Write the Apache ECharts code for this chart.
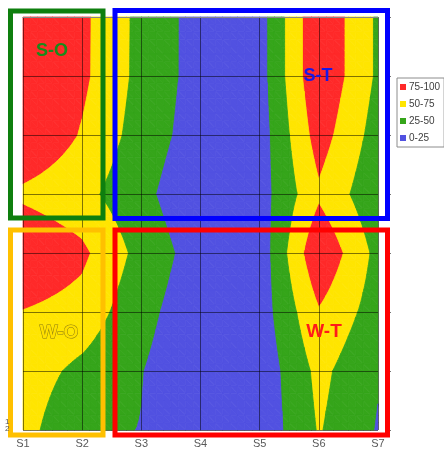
<!DOCTYPE html>
<html><head><meta charset="utf-8">
<script src="https://cdn.jsdelivr.net/npm/echarts@6/dist/echarts.min.js"></script>
<style>html,body{margin:0;padding:0;background:#fff}#c{width:444px;height:450px}</style>
</head><body><div id="c"></div><script>
// Categories along the horizontal axis
const categories = ['S1', 'S2', 'S3', 'S4', 'S5', 'S6', 'S7'];
// Surface values, one array per row (top row first)
const row1 = [95, 80.7, 42.8, 15, 15, 98, 46];
const row2 = [95, 80.5, 42.5, 15, 15, 98, 46];
const row3 = [100, 73, 39, 12.6, 12.7, 87, 39];
const row4 = [70, 57.7, 32, 5, 14, 71, 31];
const row5 = [100, 80.5, 41.5, 13, 10, 98, 42.5];
const row6 = [74, 65, 33, 8, 12, 73, 38];
const row7 = [62, 44, 26, 5, 8.3, 57, 27];
const row8 = [58, 30.4, 24.4, 5, 7.6, 52, 23.4];
const rows = [row1, row2, row3, row4, row5, row6, row7, row8];
// Contour bands
const bandNames = ['75-100', '50-75', '25-50', '0-25'];
const bandLow = [75, 50, 25, -Infinity];
const bandHigh = [Infinity, 75, 50, 25];
const bandColors = ['#FF2929', '#FFE500', '#35A51A', '#5151E1'];

function clip(poly, f) {
  const out = [];
  for (let i = 0; i < poly.length; i++) {
    const a = poly[i], b = poly[(i + 1) % poly.length];
    const fa = f(a[2]), fb = f(b[2]);
    if (fa >= 0) out.push(a);
    if ((fa >= 0) !== (fb >= 0)) {
      const t = fa / (fa - fb);
      out.push([a[0] + t * (b[0] - a[0]), a[1] + t * (b[1] - a[1]), a[2] + t * (b[2] - a[2])]);
    }
  }
  return out;
}

const N = 8;
const pieces = bandNames.map(() => []);
for (let j = 0; j < rows.length - 1; j++) {
  for (let i = 0; i < categories.length - 1; i++) {
    const A = rows[j][i], B = rows[j][i + 1], C = rows[j + 1][i], D = rows[j + 1][i + 1];
    const val = (u, w) => (1 - u) * (1 - w) * A + u * (1 - w) * B + (1 - u) * w * C + u * w * D;
    for (let a = 0; a < N; a++) {
      for (let b = 0; b < N; b++) {
        const u0 = a / N, u1 = (a + 1) / N, w0 = b / N, w1 = (b + 1) / N;
        const p00 = [i + u0, j + w0, val(u0, w0)];
        const p10 = [i + u1, j + w0, val(u1, w0)];
        const p01 = [i + u0, j + w1, val(u0, w1)];
        const p11 = [i + u1, j + w1, val(u1, w1)];
        const tris = [[p00, p10, p11], [p00, p11, p01]];
        for (const tri of tris) {
          for (let k = 0; k < bandNames.length; k++) {
            let p = clip(tri, v => v - bandLow[k]);
            if (p.length < 3) continue;
            p = clip(p, v => bandHigh[k] - v);
            if (p.length < 3) continue;
            pieces[k].push(p);
          }
        }
      }
    }
  }
}

const chart = echarts.init(document.getElementById('c'), null, {renderer: 'canvas'});
const series = bandNames.map((name, k) => ({
  name: name,
  type: 'custom',
  coordinateSystem: 'cartesian2d',
  silent: true,
  animation: false,
  itemStyle: {color: bandColors[k]},
  data: [[0, 0]],
  renderItem: function (params, api) {
    return {
      type: 'group',
      children: pieces[k].map(p => ({
        type: 'polygon',
        shape: {points: p.map(pt => api.coord([pt[0], pt[1]]))},
        style: {fill: bandColors[k], stroke: bandColors[k], lineWidth: 0.8}
      }))
    };
  }
}));

const boxStyle = (c) => ({fill: 'none', stroke: c, lineWidth: 5});
chart.setOption({
  animation: false,
  grid: {left: 23, right: 66, top: 17, bottom: 20},
  legend: {
    orient: 'vertical', left: 397, top: 78, data: bandNames, icon: 'rect',
    itemWidth: 6, itemHeight: 6, itemGap: 7, selectedMode: false,
    textStyle: {fontSize: 10, color: '#404040', fontFamily: 'Liberation Sans', padding: [0, 0, 0, -2]},
    borderColor: '#8c8c8c', borderWidth: 1, padding: [4, 4, 4, 3], backgroundColor: '#fff'
  },
  xAxis: {
    type: 'value', min: 0, max: 6, interval: 1, z: 5,
    axisLine: {show: true, lineStyle: {color: '#868686'}},
    axisTick: {show: false},
    axisLabel: {formatter: v => categories[v], color: '#595959', fontSize: 11, margin: 8, fontFamily: 'Liberation Sans'},
    splitLine: {show: true, lineStyle: {color: 'rgba(0,0,0,0.5)', width: 1}}
  },
  yAxis: [{
    type: 'value', min: 0, max: 7, interval: 1, inverse: true, z: 5,
    axisLine: {show: false}, axisTick: {show: false}, axisLabel: {show: false},
    splitLine: {show: true, lineStyle: {color: 'rgba(0,0,0,0.5)', width: 1}}
  }, {
    type: 'value', min: 0, max: 7, interval: 1, inverse: true, position: 'right', offset: 10, z: 5,
    axisLine: {show: false}, axisTick: {show: true, length: 3, lineStyle: {color: '#777'}},
    axisLabel: {show: false}, splitLine: {show: false}
  }],
  series: series,
  graphic: [
    {type: 'rect', z: 100, shape: {x: 10.5, y: 11, width: 92.5, height: 207}, style: boxStyle('#0E7F0E')},
    {type: 'rect', z: 100, shape: {x: 115, y: 10.5, width: 272.5, height: 208}, style: boxStyle('#0000FF')},
    {type: 'rect', z: 100, shape: {x: 10.5, y: 230, width: 92.5, height: 205}, style: boxStyle('#FFC000')},
    {type: 'rect', z: 100, shape: {x: 115, y: 230, width: 272.5, height: 205}, style: boxStyle('#FF0000')},
    {type: 'text', z: 101, x: 52, y: 51, style: {text: 'S-O', fill: '#1A8A1A', font: 'bold 18px "Liberation Sans"', textAlign: 'center', textVerticalAlign: 'middle'}},
    {type: 'text', z: 101, x: 318, y: 76, style: {text: 'S-T', fill: '#1818E8', font: 'bold 18px "Liberation Sans"', textAlign: 'center', textVerticalAlign: 'middle'}},
    {type: 'text', z: 101, x: 59, y: 333, style: {text: 'W-O', fill: '#FFE000', stroke: '#8A7A10', lineWidth: 1, font: 'bold 19px "Liberation Sans"', textAlign: 'center', textVerticalAlign: 'middle'}},
    {type: 'text', z: 101, x: 324, y: 332, style: {text: 'W-T', fill: '#FF1A1A', font: 'bold 19px "Liberation Sans"', textAlign: 'center', textVerticalAlign: 'middle'}},
    {type: 'text', z: 101, x: 5, y: 418, style: {text: '1', fill: '#555', font: '8px "Liberation Sans"'}},
    {type: 'text', z: 101, x: 5, y: 425, style: {text: '2', fill: '#555', font: '8px "Liberation Sans"'}}
  ]
});
</script></body></html>
